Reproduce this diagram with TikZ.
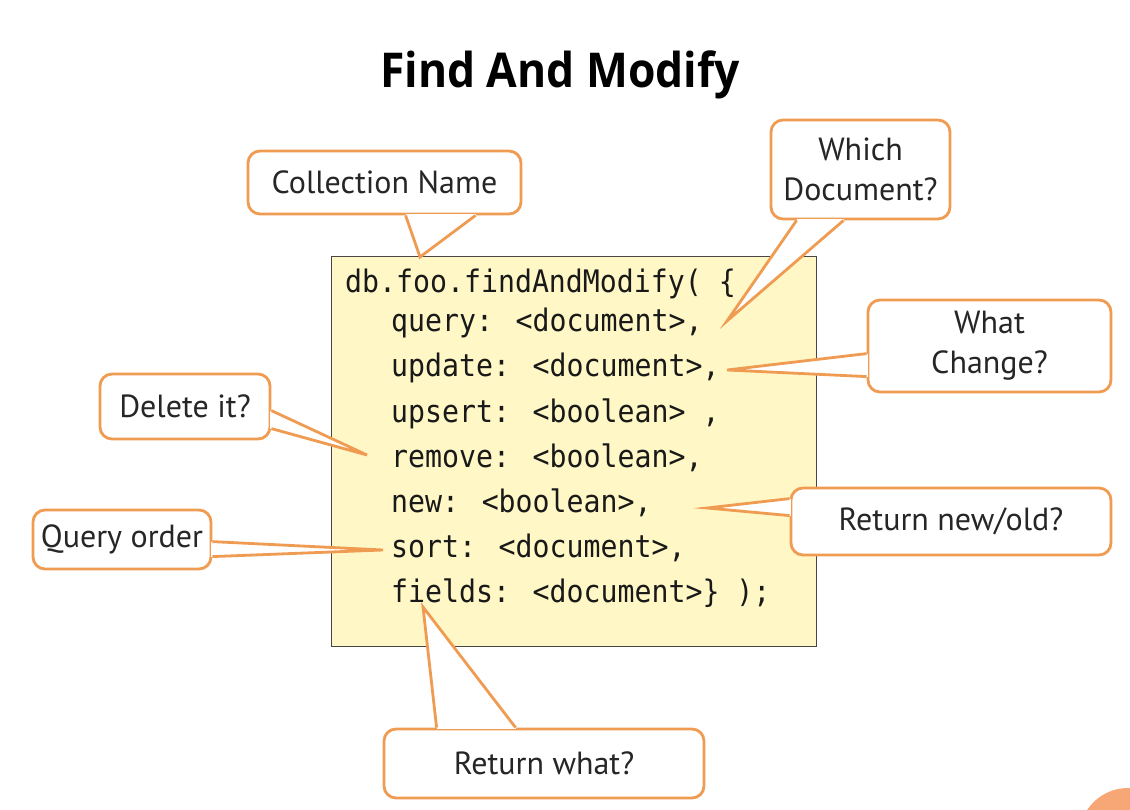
\documentclass[tikz,border=0pt]{standalone}
\usepackage{fontspec}
\usetikzlibrary{calc}
\newfontfamily\titlefont{Open Sans}[FakeStretch=0.925]
\newfontfamily\codefont{DejaVu Sans Mono}[FakeStretch=0.91]
\newfontfamily\notefont{PT Sans}
\definecolor{orangeline}{RGB}{239,155,82}
\definecolor{codefill}{RGB}{255,248,198}
\definecolor{codeedge}{RGB}{70,70,70}
\definecolor{dotfill}{RGB}{247,166,118}
\tikzset{
  callout/.style={draw=orangeline, fill=white, line width=2.8pt, rounded corners=12pt,
    inner sep=0pt, align=center, font=\notefont\fontsize{32}{40}\selectfont, text=black!85},
  codeline/.style={anchor=base west, inner sep=0pt, font=\codefont\fontsize{31}{36}\selectfont, text=black!90},
  codebox/.style={draw=codeedge, fill=codefill, line width=1.2pt, anchor=north west, inner sep=0pt},
  tailside/.style={draw=orangeline, line width=2.8pt, line join=miter},
}
\newcommand\calltail[3]{%
  \fill[white] #1 -- #2 -- #3 -- cycle;
  \draw[white, line width=3.4pt] #1 -- #3;
  \draw[tailside] #1 -- #2 -- #3;
}
\begin{document}
\begin{tikzpicture}[x=1pt,y=-1pt]
\useasboundingbox (0,0) rectangle (1130,810);
% corner dot
\fill[dotfill] (1128,837) circle (49);
% title
\node[font=\titlefont\bfseries\fontsize{48}{58}\selectfont, anchor=base] (title) at (560,88) {Find And Modify};
% code box
\node[codebox, minimum width=485pt, minimum height=390pt] (code) at (331,256) {};
\node[codeline] (l0) at (345,293) {db.foo.findAndModify( \{};
\node[codeline] (l1) at (391,332) {query: <document>,};
\node[codeline] (l2) at (391,377) {update: <document>,};
\node[codeline] (l3) at (391,422) {upsert: <boolean> ,};
\node[codeline] (l4) at (391,467) {remove: <boolean>,};
\node[codeline] (l5) at (391,512) {new: <boolean>,};
\node[codeline] (l6) at (391,557) {sort: <document>,};
\node[codeline] (l7) at (391,602) {fields: <document>\} );};
% tip coordinates
\coordinate (tCN) at (420,257);
\coordinate (tWD) at (727,321);
\coordinate (tWC) at (727,370);
\coordinate (tDI) at (367,455);
\coordinate (tQO) at (383,550);
\coordinate (tRN) at (707,508);
\coordinate (tRW) at (423,607);
% callouts
\node[callout, minimum width=273pt, minimum height=63pt] (cn) at (384.5,182.5) {Collection Name};
\calltail{($(cn.south west)+(159,0)$)}{(tCN)}{($(cn.south west)+(229,0)$)}
\node[callout, minimum width=179pt, minimum height=99pt] (wd) at (860.5,169.5) {Which\\Document?};
\calltail{($(wd.south west)+(27,0)$)}{(tWD)}{($(wd.south west)+(74,0)$)}
\node[callout, minimum width=243pt, minimum height=92pt] (wc) at (989.5,346) {What\\Change?};
\calltail{($(wc.north west)+(0,55)$)}{(tWC)}{($(wc.north west)+(0,78)$)}
\node[callout, minimum width=170pt, minimum height=65pt] (di) at (185,406.5) {Delete it?};
\calltail{($(di.north east)+(0,38)$)}{(tDI)}{($(di.north east)+(0,56)$)}
\node[callout, minimum width=178pt, minimum height=59pt] (qo) at (122,539.5) {Query order};
\calltail{($(qo.north east)+(0,33)$)}{(tQO)}{($(qo.north east)+(0,48)$)}
\node[callout, minimum width=320pt, minimum height=67pt] (rn) at (951,521.5) {Return new/old?};
\calltail{($(rn.north west)+(0,12)$)}{(tRN)}{($(rn.north west)+(0,29)$)}
\node[callout, minimum width=320pt, minimum height=69pt] (rw) at (544,763.5) {Return what?};
\calltail{($(rw.north west)+(54,0)$)}{(tRW)}{($(rw.north west)+(133,0)$)}
\end{tikzpicture}
\end{document}
